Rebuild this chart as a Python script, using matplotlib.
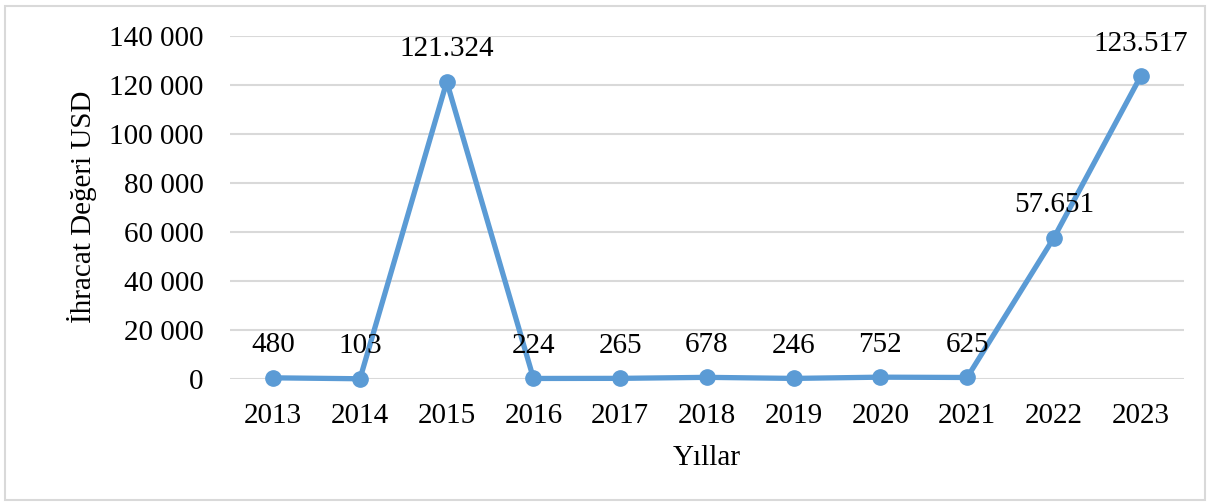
import matplotlib.pyplot as plt
from matplotlib.patches import Rectangle
from matplotlib.ticker import FuncFormatter

years = ['2013', '2014', '2015', '2016', '2017', '2018', '2019', '2020', '2021', '2022', '2023']
values = [480, 103, 121324, 224, 265, 678, 246, 752, 625, 57651, 123517]
labels = ['480', '103', '121.324', '224', '265', '678', '246', '752', '625', '57.651', '123.517']

plt.rcParams['font.family'] = ['Liberation Serif', 'DejaVu Serif']
color = '#5B9BD5'

fig = plt.figure(figsize=(12.1, 5.03), dpi=100)
ax = fig.add_axes([0.190, 0.2465, 0.7885, 0.6819])

x = list(range(len(years)))
ax.plot(x, values, color=color, lw=3.8, marker='o', ms=11, zorder=3, clip_on=False)
for xi, v, lab in zip(x, values, labels):
    ax.annotate(lab, (xi, v), xytext=(0, 14), textcoords='offset points',
                ha='center', va='bottom', fontsize=21)

ax.set_xlim(-0.5, len(years) - 0.5)
ax.set_ylim(0, 140000)
ax.set_yticks(range(0, 140001, 20000))
ax.yaxis.set_major_formatter(FuncFormatter(lambda v, p: f'{int(v):,}'.replace(',', ' ')))
ax.set_xticks(x)
ax.set_xticklabels(years)
ax.tick_params(axis='both', length=0, labelsize=21)
ax.tick_params(axis='y', pad=19)
ax.tick_params(axis='x', pad=17)
ax.grid(axis='y', color='#D9D9D9', lw=1.5)
ax.set_axisbelow(True)
for s in ax.spines.values():
    s.set_visible(False)

ax.set_xlabel('Yıllar', fontsize=21, labelpad=12)
fig.text(82 / 1210, 1 - 207 / 503, 'İhracat Değeri USD', rotation=90,
         ha='center', va='center', fontsize=21)

fig.patches.append(Rectangle((5 / 1210, 3 / 503), 1200 / 1210, 494 / 503,
                             transform=fig.transFigure, fill=False,
                             edgecolor='#D9D9D9', lw=1.5))

fig.savefig('out.png', dpi=100)
